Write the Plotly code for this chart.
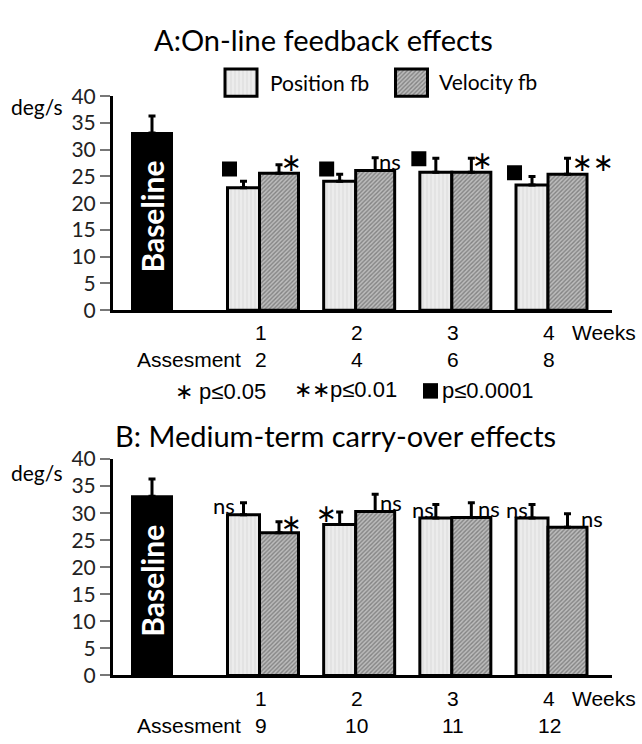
import plotly.graph_objects as go

# ---------------- data ----------------
weeks = [1, 2, 3, 4]
week_labels = ["1", "2", "3", "4"]
assess_a = ["2", "4", "6", "8"]
assess_b = ["9", "10", "11", "12"]

baseline_mean = 33.1
baseline_err = 3.2

pos_a = [22.9, 24.1, 25.8, 23.4]
pos_a_err = [1.2, 1.3, 2.6, 1.6]
vel_a = [25.6, 26.1, 25.8, 25.4]
vel_a_err = [1.6, 2.4, 2.6, 3.0]

pos_b = [29.7, 27.9, 29.1, 29.1]
pos_b_err = [2.2, 2.3, 2.5, 2.5]
vel_b = [26.4, 30.3, 29.2, 27.4]
vel_b_err = [2.0, 3.2, 2.7, 2.5]

sig_a_pos = ["sq", "sq", "sq", "sq"]
sig_a_vel = ["∗", "ns", "∗", "∗∗"]
sig_b_pos = ["ns", "∗", "ns", "ns"]
sig_b_vel = ["∗", "ns", "ns", "ns"]

# ---------------- layout constants ----------------
W, H = 642, 744
def fx(p):
    return p / W
def fy(p):
    return 1 - p / H

unit_px = 96.17
w1_px = 259.5
ax_left, ax_right = 113, 612
x_range = [1 - (w1_px - ax_left) / unit_px, 1 + (ax_right - w1_px) / unit_px]
pos_w = 32 / unit_px
vel_w = 39 / unit_px
base_w = 40 / unit_px
base_x = 1 - (w1_px - 152) / unit_px

# label placement (px shift from bar edge, y in axis units)
lab_a_pos_dx = [2, 3, -1, -1.5]
lab_a_pos_y = [26.4, 26.4, 28.3, 25.7]
lab_a_vel_dx = [-7, -5, -8, 6]
lab_a_vel_y = [27.6, 27.8, 28.0, 27.6]
lab_b_pos_dx = [-4, 3, 3, 1]
lab_b_pos_y = [31.5, 29.9, 30.6, 30.6]
lab_b_vel_dx = [-7, -4, -2, 5]
lab_b_vel_y = [28.1, 31.9, 30.8, 29.0]

CAL = "Lato, 'Open Sans', sans-serif"
ARI = "'Liberation Sans', Arial, sans-serif"

pos_marker = dict(color="#e8e8e8",
                  pattern=dict(shape="|", fgcolor="#cdcdcd", bgcolor="#ececec", size=4, solidity=0.3),
                  line=dict(color="black", width=3))
vel_marker = dict(color="#9a9a9a",
                  pattern=dict(shape="/", fgcolor="#4a4a4a", bgcolor="#bcbcbc", size=3, solidity=0.45),
                  line=dict(color="black", width=3))

def err(arr):
    return dict(type="data", array=arr, arrayminus=[0] * len(arr), symmetric=False,
                color="black", thickness=3, width=3.5)

fig = go.Figure()
annotations = []
shapes = []

def add_panel(xa, ya, pos, pos_err, vel, vel_err, sig_pos, sig_vel,
              pos_dx, pos_y, vel_dx, vel_y):
    fig.add_trace(go.Bar(x=[base_x], y=[baseline_mean], width=[base_w],
                         marker=dict(color="black", line=dict(color="black", width=2)),
                         error_y=err([baseline_err]), xaxis=xa, yaxis=ya,
                         showlegend=False, hoverinfo="skip"))
    fig.add_trace(go.Bar(x=weeks, y=pos, width=pos_w, offset=-pos_w, marker=pos_marker,
                         error_y=err(pos_err), xaxis=xa, yaxis=ya, name="Position fb",
                         showlegend=False))
    fig.add_trace(go.Bar(x=weeks, y=vel, width=vel_w, offset=0, marker=vel_marker,
                         error_y=err(vel_err), xaxis=xa, yaxis=ya, name="Velocity fb",
                         showlegend=False))
    # baseline label
    annotations.append(dict(x=base_x, y=17.5, xref=xa, yref=ya, text="<b>Baseline</b>",
                            textangle=-90, showarrow=False,
                            font=dict(family=CAL, size=30, color="white")))
    sq_x, sq_y = [], []
    for i, w in enumerate(weeks):
        lx = w - pos_w
        if sig_pos[i] == "sq":
            sq_x.append(lx + pos_dx[i] / unit_px)
            sq_y.append(pos_y[i])
        else:
            star = "∗" in sig_pos[i]
            annotations.append(dict(x=lx, y=pos_y[i], xref=xa, yref=ya, xshift=pos_dx[i],
                                    text=sig_pos[i], showarrow=False, yanchor="middle",
                                    font=dict(family="DejaVu Sans" if star else CAL,
                                              size=25 if star else 22, color="black")))
        rx = w + vel_w
        star = "∗" in sig_vel[i]
        annotations.append(dict(x=rx, y=vel_y[i], xref=xa, yref=ya, xshift=vel_dx[i],
                                text=sig_vel[i], showarrow=False, yanchor="middle",
                                font=dict(family="DejaVu Sans" if star else CAL,
                                          size=25 if star else 22, color="black")))
    if sq_x:
        fig.add_trace(go.Scatter(x=sq_x, y=sq_y, mode="markers", xaxis=xa, yaxis=ya,
                                 marker=dict(symbol="square", size=15, color="black",
                                             line=dict(width=0)),
                                 showlegend=False, hoverinfo="skip"))

add_panel("x", "y", pos_a, pos_a_err, vel_a, vel_a_err, sig_a_pos, sig_a_vel,
          lab_a_pos_dx, lab_a_pos_y, lab_a_vel_dx, lab_a_vel_y)
add_panel("x2", "y2", pos_b, pos_b_err, vel_b, vel_b_err, sig_b_pos, sig_b_vel,
          lab_b_pos_dx, lab_b_pos_y, lab_b_vel_dx, lab_b_vel_y)

# legend swatches (own tiny axes)
fig.add_trace(go.Bar(x=[0], y=[1], width=[1], marker=pos_marker, xaxis="x3", yaxis="y3",
                     showlegend=False, hoverinfo="skip"))
fig.add_trace(go.Bar(x=[0], y=[1], width=[1], marker=vel_marker, xaxis="x4", yaxis="y4",
                     showlegend=False, hoverinfo="skip"))

yA = [fy(306.5), fy(85)]
yB = [fy(684.5), fy(460.5)]
xdom = [fx(ax_left), fx(ax_right)]

def yaxis(dom):
    return dict(domain=dom, range=[0, 40], tickvals=list(range(0, 41, 5)),
                showline=True, linecolor="black", linewidth=3, ticks="outside",
                ticklen=10, tickwidth=2, tickcolor="#777", showgrid=False, zeroline=False,
                tickfont=dict(family=CAL, size=21, color="#222"), fixedrange=True)

def xaxis(anchor):
    return dict(domain=xdom, range=x_range, showline=True, linecolor="black", linewidth=3,
                showticklabels=False, ticks="", showgrid=False, zeroline=False,
                anchor=anchor, fixedrange=True)

fig.update_layout(
    width=W, height=H, margin=dict(l=0, r=0, t=0, b=0),
    paper_bgcolor="white", plot_bgcolor="rgba(0,0,0,0)",
    barmode="overlay", showlegend=False,
    xaxis=xaxis("y"), yaxis=yaxis(yA),
    xaxis2=xaxis("y2"), yaxis2=dict(yaxis(yB), anchor="x2"),
    xaxis3=dict(domain=[fx(221), fx(261)], range=[-0.625, 0.625], visible=False, anchor="y3"),
    yaxis3=dict(domain=[fy(89), fy(53)], range=[-0.1429, 1.1429], visible=False, anchor="x3"),
    xaxis4=dict(domain=[fx(391.5), fx(431.5)], range=[-0.625, 0.625], visible=False, anchor="y4"),
    yaxis4=dict(domain=[fy(89), fy(53)], range=[-0.1429, 1.1429], visible=False, anchor="x4"),
)
fig.layout.yaxis.anchor = "x"

def ptext(text, x, y, size, family=CAL, xanchor="center", color="black"):
    annotations.append(dict(x=fx(x), y=fy(y), xref="paper", yref="paper", text=text,
                            showarrow=False, xanchor=xanchor, yanchor="middle",
                            font=dict(family=family, size=size, color=color)))

# titles & units
ptext("A:On-line feedback effects", 324, 26, 29)
ptext("B: Medium-term carry-over effects", 336, 436, 29)
ptext("deg/s", 37, 96, 21)
ptext("deg/s", 37, 474, 21)
# legend text
ptext("Position fb", 268, 71, 21, xanchor="left")
ptext("Velocity fb", 437, 70, 21, xanchor="left")

# week & assessment rows
for axis_x, row_w, row_a, assess in (("x", 330, 358, assess_a), ("x2", 708, 736, assess_b)):
    for w, wl, al in zip(weeks, week_labels, assess):
        annotations.append(dict(x=w, y=fy(row_w), xref=axis_x, yref="paper", text=wl,
                                showarrow=False, yanchor="middle", xshift=1,
                                font=dict(family=ARI, size=21, color="black")))
        annotations.append(dict(x=w, y=fy(row_a), xref=axis_x, yref="paper", text=al,
                                showarrow=False, yanchor="middle", xshift=1,
                                font=dict(family=ARI, size=21, color="black")))
    ptext("Weeks", 604, row_w, 21, family=ARI)
    ptext("Assesment", 243, row_a, 21, family=ARI, xanchor="right")

# significance key
ptext("∗ p≤0.05", 173, 391, 22, family=ARI, xanchor="left")
ptext("∗∗p≤0.01", 292, 389, 22, family=ARI, xanchor="left")
ptext("p≤0.0001", 440, 390, 22, family=ARI, xanchor="left")
shapes.append(dict(type="rect", xref="paper", yref="paper", x0=fx(423), x1=fx(438),
                   y0=fy(398), y1=fy(382), fillcolor="black", line=dict(width=0)))

fig.update_layout(annotations=annotations, shapes=shapes)
fig.write_html("out.html")
